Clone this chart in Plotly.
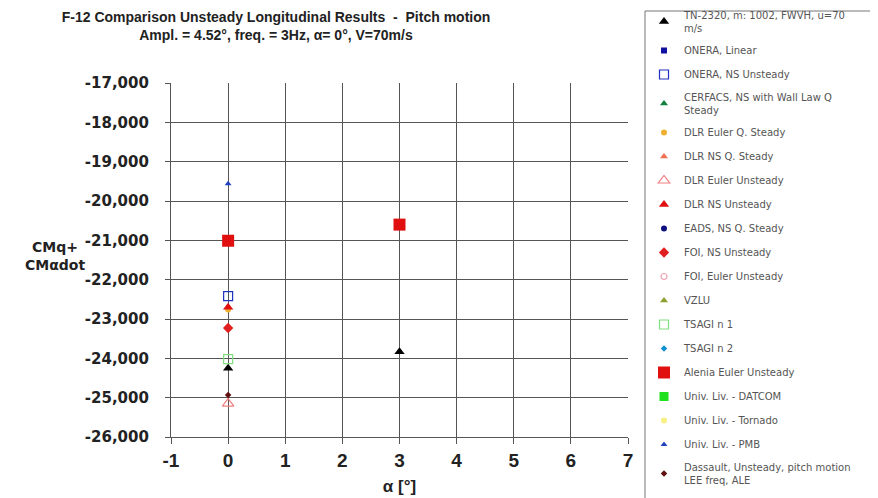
import plotly.graph_objects as go

# ---- data ----
series_names = [
    "TN-2320, m: 1002, FWVH, u=70<br>m/s",
    "ONERA, Linear",
    "ONERA, NS Unsteady",
    "CERFACS, NS with Wall Law Q<br>Steady",
    "DLR Euler Q. Steady",
    "DLR NS Q. Steady",
    "DLR Euler Unsteady",
    "DLR NS Unsteady",
    "EADS, NS Q. Steady",
    "FOI, NS Unsteady",
    "FOI, Euler Unsteady",
    "VZLU",
    "TSAGI n 1",
    "TSAGI n 2",
    "Alenia Euler Unsteady",
    "Univ. Liv. - DATCOM",
    "Univ. Liv. - Tornado",
    "Univ. Liv. - PMB",
    "Dassault, Unsteady, pitch motion<br>LEE freq, ALE",
]
series_alpha = [
    [0, 3], [None], [0], [None], [0], [None], [0], [0], [None], [0],
    [None], [None], [0], [None], [0, 3], [None], [None], [0], [0],
]
series_values = [
    [-24250, -23830], [None], [-22420], [None], [-22760], [None], [-25150],
    [-22700], [None], [-23230], [None], [None], [-24020], [None],
    [-21010, -20600], [None], [None], [-19560], [-24930],
]
y_tick_vals = [-17000, -18000, -19000, -20000, -21000, -22000, -23000, -24000, -25000, -26000]
y_tick_text = ["-17,000", "-18,000", "-19,000", "-20,000", "-21,000", "-22,000",
               "-23,000", "-24,000", "-25,000", "-26,000"]
x_tick_vals = [-1, 0, 1, 2, 3, 4, 5, 6, 7]
x_tick_text = ["-1", "0", "1", "2", "3", "4", "5", "6", "7"]

# ---- styles ----
styles = [
    dict(symbol="triangle-up", color="black", size=9),
    dict(symbol="square", color="#1010a0", size=6),
    dict(symbol="square-open", color="#2030c0", size=9),
    dict(symbol="triangle-up", color="#108040", size=7),
    dict(symbol="circle", color="#f0b030", size=6),
    dict(symbol="triangle-up", color="#f07050", size=7),
    dict(symbol="triangle-up-open", color="#f08080", size=10),
    dict(symbol="triangle-up", color="#e01010", size=9),
    dict(symbol="circle", color="#101080", size=6),
    dict(symbol="diamond", color="#e02020", size=8),
    dict(symbol="circle-open", color="#f0a0b0", size=6),
    dict(symbol="triangle-up", color="#90a030", size=7),
    dict(symbol="square-open", color="#80e080", size=9),
    dict(symbol="diamond", color="#1090d0", size=5),
    dict(symbol="square", color="#e01010", size=12),
    dict(symbol="square", color="#20e020", size=9),
    dict(symbol="circle", color="#f8f080", size=6),
    dict(symbol="triangle-up", color="#2040c0", size=6),
    dict(symbol="diamond", color="#601010", size=5),
]
split_at = 10  # first legend block / second block

fig = go.Figure()
for i, (name, xs, ys, st) in enumerate(zip(series_names, series_alpha, series_values, styles)):
    fig.add_trace(go.Scatter(
        x=xs, y=ys, name=name, mode="markers",
        legendgroup=f"g{i}",
        legend="legend" if i < split_at else "legend2",
        marker=dict(symbol=st["symbol"], color=st["color"], size=st["size"],
                    line=dict(width=1.2 if "open" in st["symbol"] else 0, color=st["color"])),
        showlegend=True,
    ))

# pixel helpers for layout placement
L, R, T, B = 163, 620, 75, 429
def px_x(p):
    return (p - L) / (R - L)
def px_y(p):
    return (B - p) / (B - T)

grid_col = "#555555"
wide_bold = "DejaVu Sans, Verdana, sans-serif"
legend_font = dict(size=10, family="DejaVu Sans, Verdana, sans-serif", color="#555555")
fig.update_layout(
    width=878, height=498,
    margin=dict(l=L, r=878 - R, t=T, b=498 - B, autoexpand=False),
    plot_bgcolor="white", paper_bgcolor="white",
    font=dict(family="Liberation Sans, Arial, sans-serif", color="black"),
    title=dict(
        text="<b>F-12 Comparison Unsteady Longitudinal Results  -  Pitch motion<br>"
             "Ampl. = 4.52°, freq. = 3Hz, α= 0°, V=70m/s</b>",
        x=268 / 878, xanchor="center", y=1 - 14 / 498, yanchor="top",
        font=dict(size=14, color="#222222"),
    ),
    xaxis=dict(
        range=[-1, 7], tickvals=x_tick_vals, ticktext=["<b>" + t + "</b>" for t in x_tick_text],
        showgrid=True, gridcolor=grid_col,
        gridwidth=1.2, zeroline=False, showline=True, linecolor=grid_col, linewidth=1.2,
        ticks="outside", ticklen=6, tickcolor=grid_col, ticklabelstandoff=0,
        tickfont=dict(size=19, family="Liberation Sans, Arial", color="#222222"),
        title=dict(text="<b>α [°]</b>", font=dict(size=17, color="#222222"), standoff=10),
    ),
    yaxis=dict(
        range=[-26000, -17000], tickvals=y_tick_vals, ticktext=["<b>" + t + "</b>" for t in y_tick_text],
        showgrid=True, gridcolor=grid_col, gridwidth=1.2, zeroline=False,
        showline=True, linecolor=grid_col, linewidth=1.2,
        ticks="outside", ticklen=5, tickcolor=grid_col,
        ticklabelstandoff=13,
        tickfont=dict(size=15, family=wide_bold, color="#222222"),
    ),
    legend=dict(
        x=px_x(636), xanchor="left", y=px_y(259), yanchor="bottom",
        bgcolor="rgba(255,255,255,0)", borderwidth=0,
        font=legend_font, tracegroupgap=5, itemsizing="trace",
    ),
    legend2=dict(
        x=px_x(636), xanchor="left", y=px_y(254), yanchor="top",
        bgcolor="rgba(255,255,255,0)", borderwidth=0,
        font=legend_font, tracegroupgap=5, itemsizing="trace",
    ),
    shapes=[
        dict(type="rect", xref="paper", yref="paper",
             x0=px_x(637), x1=px_x(877), y0=px_y(493), y1=px_y(3),
             line=dict(color="#777777", width=1), fillcolor="rgba(0,0,0,0)", layer="below"),
    ],
    annotations=[
        dict(text="<b>CMq+<br>CMαdot</b>", xref="paper", yref="paper",
             x=px_x(47), y=px_y(248), xanchor="center", yanchor="middle",
             showarrow=False, font=dict(size=14, family=wide_bold, color="#222222")),
    ],
)

fig.write_html("out.html")
